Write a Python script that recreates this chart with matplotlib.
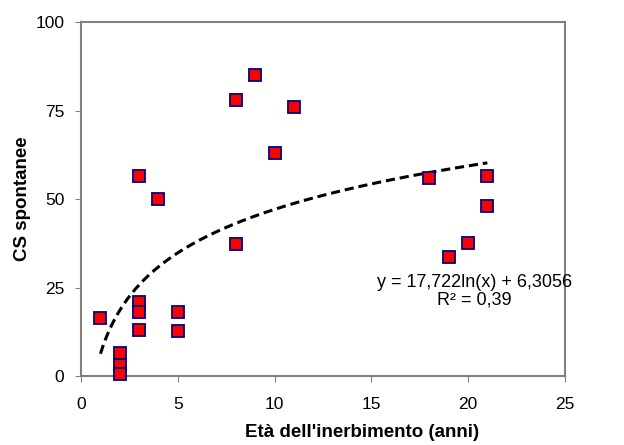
import numpy as np
import matplotlib.pyplot as plt

plt.rcParams['font.family'] = ['Liberation Sans', 'DejaVu Sans']

# eta' dell'inerbimento (anni) and CS spontanee
eta = [1, 2, 2, 2, 3, 3, 3, 3, 4, 5, 5, 8, 8, 9, 10, 11, 18, 19, 20, 21, 21]
cs = [16.5, 6.5, 3, 0.5, 56.5, 21, 18.2, 13, 50, 18, 12.7, 78, 37.2, 85, 63, 76,
      56, 33.7, 37.7, 56.5, 48.1]

# logarithmic trend line coefficients
coef_a = 17.722
coef_b = 6.3056
eq_text = "y = 17,722ln(x) + 6,3056\nR² = 0,39"

fig = plt.figure(figsize=(6.24, 4.45), dpi=100)
ax = fig.add_axes([0.13, 0.155, 0.775, 0.795])

xt = np.linspace(min(eta), max(eta), 200)
ax.plot(xt, coef_a * np.log(xt) + coef_b, color='black', linestyle=(0, (3, 1.6)),
        linewidth=2.2, zorder=2)

ax.plot(eta, cs, linestyle='none', marker='s', markersize=9.3,
        markerfacecolor='#ff0000', markeredgecolor='#000080',
        markeredgewidth=1.3, clip_on=False, zorder=3)

ax.text(20.35, 24, eq_text, ha='center', va='center', fontsize=13,
        linespacing=1.0)

ax.set_xlim(0, 25)
ax.set_ylim(0, 100)
ax.set_xticks([0, 5, 10, 15, 20, 25])
ax.set_yticks([0, 25, 50, 75, 100])
ax.tick_params(labelsize=12.5, length=4, color='#808080')
ax.tick_params(axis='x', pad=11)
ax.tick_params(axis='y', pad=8)

for s in ax.spines.values():
    s.set_color('#808080')
    s.set_linewidth(1.5)

ax.set_xlabel("Età dell'inerbimento (anni)", fontsize=13.5, fontweight='bold')
ax.xaxis.set_label_coords(0.58, -0.135)
ax.set_ylabel("CS spontanee", fontsize=13.5, fontweight='bold', labelpad=3)

fig.savefig('out.png', dpi=100)
